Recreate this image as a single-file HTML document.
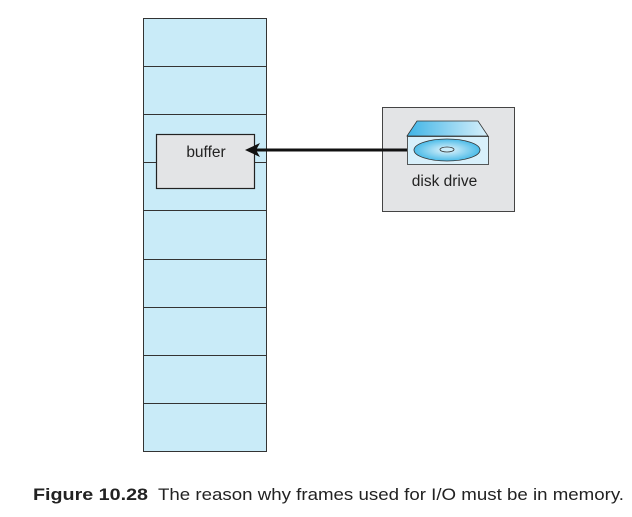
<!DOCTYPE html>
<html><head><style>
body{margin:0;background:#fff;width:632px;height:517px;overflow:hidden;font-family:"Liberation Sans",sans-serif}
</style></head><body>
<svg width="632" height="517" style="position:absolute;left:0;top:0">
<defs><linearGradient id="g" x1="0" x2="1"><stop offset="0" stop-color="#3fb4e6"/><stop offset="1" stop-color="#d8f0fb"/></linearGradient>
<radialGradient id="r"><stop offset="0" stop-color="#e6f6fd"/><stop offset="1" stop-color="#4bbbe8"/></radialGradient></defs>
<rect x="143.5" y="18.5" width="123" height="433" fill="#c9ebf8" stroke="#333" stroke-width="1"/>
<g stroke="#333" stroke-width="1">
<line x1="143" x2="266" y1="66.5" y2="66.5"/><line x1="143" x2="266" y1="114.5" y2="114.5"/>
<line x1="143" x2="266" y1="162.5" y2="162.5"/><line x1="143" x2="266" y1="210.5" y2="210.5"/>
<line x1="143" x2="266" y1="259.5" y2="259.5"/><line x1="143" x2="266" y1="307.5" y2="307.5"/>
<line x1="143" x2="266" y1="355.5" y2="355.5"/><line x1="143" x2="266" y1="403.5" y2="403.5"/>
</g>
<rect x="156.5" y="134.5" width="98" height="54" fill="#e3e4e6" stroke="#222" stroke-width="1.2"/>
<text x="206" y="157" font-size="15.5" text-anchor="middle" fill="#222">buffer</text>
<rect x="382.5" y="107.5" width="132" height="104" fill="#e3e4e6" stroke="#444"/>
<polygon points="407,136 417,121 478,121 488,136" fill="url(#g)" stroke="#333" stroke-width="0.8"/>
<rect x="407.5" y="136.5" width="81" height="28" fill="#d8f0fb" stroke="#333" stroke-width="0.8"/>
<ellipse cx="447" cy="150" rx="33" ry="11" fill="url(#r)" stroke="#333" stroke-width="0.8"/>
<ellipse cx="447" cy="149.5" rx="7" ry="2.5" fill="#cdeefb" stroke="#333" stroke-width="0.8"/>
<text x="444.5" y="186" font-size="15.5" text-anchor="middle" fill="#222">disk drive</text>
<line x1="407" x2="256" y1="150" y2="150" stroke="#111" stroke-width="3"/>
<polygon points="245,150 260,143 256,150 260,157" fill="#111"/>
<text x="33" y="500" font-size="16.5" font-weight="bold" fill="#222" textLength="115" lengthAdjust="spacingAndGlyphs">Figure 10.28</text>
<text x="158" y="500" font-size="16.5" fill="#222" textLength="466" lengthAdjust="spacingAndGlyphs">The reason why frames used for I/O must be in memory.</text>
</svg>
</body></html>
